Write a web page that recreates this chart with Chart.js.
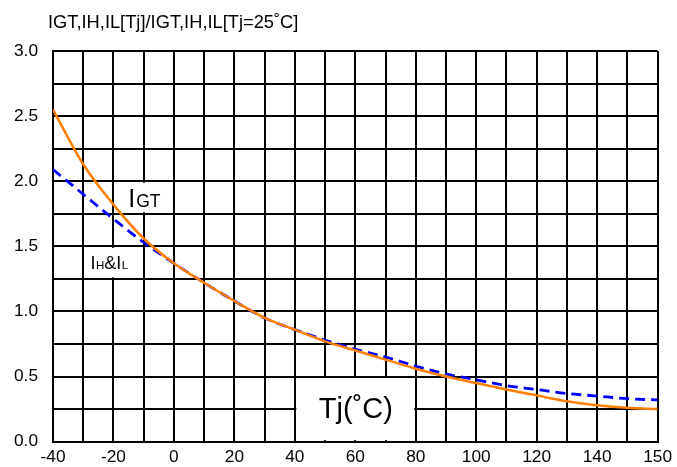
<!DOCTYPE html>
<html>
<head>
<meta charset="utf-8">
<script src="https://cdn.jsdelivr.net/npm/chart.js@4.4.1/dist/chart.umd.min.js"></script>
<style>
  body { margin: 0; background: #fff; }
  #wrap { width: 677px; height: 467px; }
</style>
</head>
<body>
<div id="wrap"><canvas id="tjChart"></canvas></div>
<script>
// x positions on the axis grid (the last grid line is labelled "150" in the original)
var tjPos = [-40, -30, -20, -10, 0, 10, 20, 30, 40, 50, 60, 70, 80, 90, 100, 110, 120, 130, 140, 150, 160];
var igt = [2.55, 2.13, 1.82, 1.56, 1.37, 1.22, 1.08, 0.95, 0.86, 0.77, 0.70, 0.63, 0.56, 0.50, 0.45, 0.40, 0.355, 0.31, 0.28, 0.26, 0.25];
var ihil = [2.09, 1.90, 1.71, 1.53, 1.37, 1.22, 1.08, 0.95, 0.86, 0.78, 0.71, 0.65, 0.58, 0.52, 0.475, 0.43, 0.40, 0.37, 0.35, 0.33, 0.32];
var xTickLabels = ["-40", "-20", "0", "20", "40", "60", "80", "100", "120", "140", "150"];
var yTickLabels = ["0.0", "0.5", "1.0", "1.5", "2.0", "2.5", "3.0"];

var font = "'Liberation Sans', Arial, sans-serif";

function toPoints(xs, ys) {
    return xs.map(function (v, i) { return { x: v, y: ys[i] }; });
}

// draw text made of pieces with different sizes
function richText(ctx, x, y, parts) {
    ctx.textAlign = "left";
    ctx.textBaseline = "alphabetic";
    parts.forEach(function (p) {
        ctx.font = p[1] + "px " + font;
        ctx.fillText(p[0], x, y);
        x += ctx.measureText(p[0]).width + (p[2] || 0);
    });
}

function whiteBox(ctx, x, y, x0, x1, y0, y1) {
    var l = x.getPixelForValue(x0), r = x.getPixelForValue(x1);
    var t = y.getPixelForValue(y1), b = y.getPixelForValue(y0);
    ctx.fillStyle = "#fff";
    ctx.fillRect(l + 1.5, t + 1.5, r - l - 3, b - t - 3);
}

var notes = {
    id: "notes",
    beforeDatasetsDraw: function (chart) {
        var ctx = chart.ctx, x = chart.scales.x, y = chart.scales.y;
        ctx.save();
        whiteBox(ctx, x, y, -20, 0, 1.75, 2.0);
        whiteBox(ctx, x, y, -30, -10, 1.25, 1.5);
        whiteBox(ctx, x, y, 40, 80, 0, 0.5);
        ctx.fillStyle = "#000";
        richText(ctx, x.getPixelForValue(-15.1), y.getPixelForValue(1.80), [["I", 25, 1], ["GT", 17.5]]);
        richText(ctx, x.getPixelForValue(-27.6), y.getPixelForValue(1.323), [["I", 18, 0.5], ["H", 11.5], ["&I", 18, 0.5], ["L", 11.5]]);
        ctx.font = "29px " + font;
        ctx.textAlign = "center";
        ctx.fillText("Tj(\u02DAC)", x.getPixelForValue(60.2), y.getPixelForValue(0.18));
        ctx.restore();
    },
    afterDraw: function (chart) {
        var ctx = chart.ctx;
        ctx.save();
        ctx.fillStyle = "#000";
        ctx.font = "18.3px " + font;
        ctx.textAlign = "left";
        ctx.fillText("IGT,IH,IL[Tj]/IGT,IH,IL[Tj=25\u02DAC]", 48, 28);
        ctx.restore();
    }
};

var ctx = document.getElementById("tjChart").getContext("2d");
var chart = new Chart(ctx, {
    type: "line",
    data: {
        datasets: [{
            label: "IGT",
            data: toPoints(tjPos, igt),
            borderColor: "#FF8000",
            borderWidth: 2.5,
            pointRadius: 0,
            cubicInterpolationMode: "monotone"
        }, {
            label: "IH&IL",
            data: toPoints(tjPos, ihil),
            borderColor: "#0000FF",
            borderWidth: 2.8,
            borderDash: [10, 6],
            pointRadius: 0,
            cubicInterpolationMode: "monotone"
        }]
    },
    options: {
        responsive: true,
        maintainAspectRatio: false,
        animation: false,
        layout: { padding: { top: 51, right: 16, left: 0, bottom: 0 } },
        plugins: {
            legend: { display: false },
            tooltip: { enabled: false }
        },
        scales: {
            x: {
                type: "linear",
                min: -40,
                max: 160,
                afterFit: function (s) { s.height = 24; },
                grid: { color: "#000", lineWidth: 2, drawTicks: false },
                border: { color: "#000", width: 2 },
                ticks: {
                    stepSize: 10,
                    autoSkip: false,
                    maxRotation: 0,
                    padding: 5,
                    color: "#000",
                    font: { family: font, size: 17.3 },
                    callback: function (v) {
                        return v % 20 === 0 ? xTickLabels[(v + 40) / 20] : "";
                    }
                }
            },
            y: {
                min: 0,
                max: 3,
                afterFit: function (s) { s.width = 53; },
                grid: { color: "#000", lineWidth: 2, drawTicks: false },
                border: { color: "#000", width: 2 },
                ticks: {
                    stepSize: 0.25,
                    autoSkip: false,
                    padding: 15,
                    color: "#000",
                    font: { family: font, size: 17.3 },
                    callback: function (v) {
                        var i = Math.round(v * 2);
                        return Math.abs(v * 2 - i) < 1e-6 ? yTickLabels[i] : "";
                    }
                }
            }
        }
    },
    plugins: [notes]
});
</script>
</body>
</html>
